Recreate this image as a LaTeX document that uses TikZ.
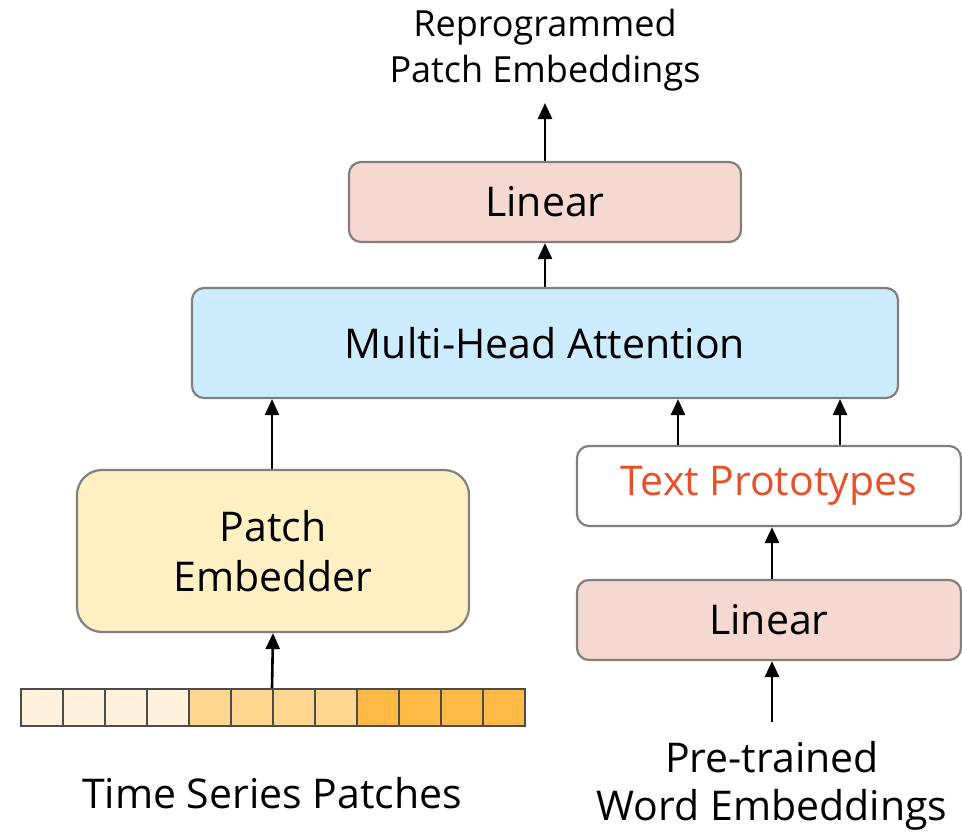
\documentclass[tikz,border=0pt]{standalone}
\usepackage{fontspec}
\setmainfont{Open Sans}
\usetikzlibrary{arrows.meta}
\definecolor{boxline}{HTML}{808080}
\definecolor{linfill}{HTML}{F5D8D0}
\definecolor{attnfill}{HTML}{CCEBFC}
\definecolor{embfill}{HTML}{FFF0C4}
\definecolor{protocol}{HTML}{E8502A}
\definecolor{patchA}{HTML}{FFF2DD}
\definecolor{patchB}{HTML}{FFD68F}
\definecolor{patchC}{HTML}{FFBA45}
\tikzset{
  blk/.style={draw=boxline, line width=2.2pt, rounded corners=12pt, inner sep=0pt,
    font=\fontsize{41}{50}\selectfont, align=center},
  lbl/.style={font=\fontsize{41}{48}\selectfont, align=center, inner sep=0pt},
  toplbl/.style={font=\fontsize{36}{46}\selectfont, align=center, inner sep=0pt},
  conn/.style={line width=2.6pt, -{Triangle[width=14pt,length=16pt]}},
  cell/.style={draw=black!70, line width=1.6pt, minimum width=42pt, minimum height=37pt,
    inner sep=0pt, anchor=north west}
}
\begin{document}
\begin{tikzpicture}[x=1pt,y=-1pt]
\useasboundingbox (0,0) rectangle (962,835);

% upper branch
\node[toplbl] (out) at (545,50) {Reprogrammed\\Patch Embeddings};
\node[blk, fill=linfill, minimum width=392pt, minimum height=80pt] (lin1) at (545,202) {Linear};
\node[blk, fill=attnfill, minimum width=706pt, minimum height=110pt] (mha) at (545,343) {Multi-Head Attention};

% text branch
\node[blk, fill=white, text=protocol, minimum width=384pt, minimum height=80pt] (proto) at (769,486) {Text Prototypes};
\node[blk, fill=linfill, minimum width=384pt, minimum height=80pt] (lin2) at (769,620) {Linear};
\node[lbl] (words) at (772,786) {Pre-trained\\Word Embeddings};

% time series branch
\node[blk, fill=embfill, rounded corners=25pt, minimum width=392pt, minimum height=162pt] (emb) at (273,551) {Patch\\Embedder};
\foreach \i in {0,...,11}{
  \ifnum\i<4 \def\cc{patchA}\else\ifnum\i<8 \def\cc{patchB}\else\def\cc{patchC}\fi\fi
  \node[cell, fill=\cc] (p\i) at ({20+42*\i},688) {};
}
\coordinate (pin) at (272,688);
\node[lbl] (tsp) at (272,793) {Time Series Patches};

% connectors
\coordinate (outfoot) at (545,103);
\draw[conn] (lin1.north) -- (outfoot);
\draw[conn] (mha.north) -- (lin1.south);
\draw[conn] (pin) -- (emb.south);
\draw[conn] (emb.north -| pin) -- (mha.south -| pin);
\draw[conn] (proto.north -| 678,0) -- (mha.south -| 678,0);
\draw[conn] (proto.north -| 840,0) -- (mha.south -| 840,0);
\draw[conn] (lin2.north -| 772,0) -- (proto.south -| 772,0);
\coordinate (win) at (772,722);
\draw[conn] (win) -- (lin2.south -| win);
\end{tikzpicture}
\end{document}
